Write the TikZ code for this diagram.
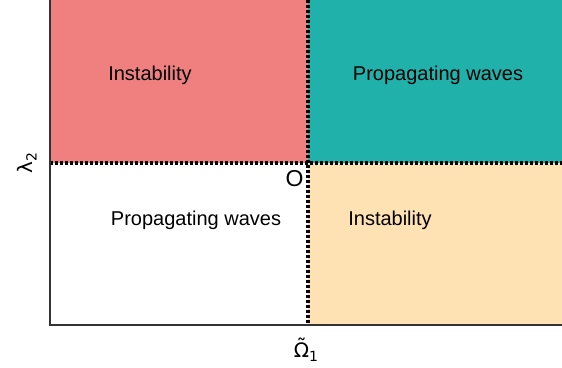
\documentclass[tikz,border=0pt]{standalone}
\usepackage{fontspec}
\setmainfont{Liberation Sans}
\newfontfamily\dvs{DejaVu Sans}
\definecolor{lcoral}{RGB}{240,128,128}
\definecolor{lsea}{RGB}{32,178,170}
\definecolor{mocc}{RGB}{255,226,179}
\begin{document}
\begin{tikzpicture}[x=1pt,y=-1pt,
  regtext/.style={inner sep=0pt,anchor=base,font=\fontsize{20}{24}\selectfont},
  axlabel/.style={inner sep=0pt,font=\dvs\fontsize{20}{24}\selectfont},
  divider/.style={line width=3.5pt,black,dash pattern=on 2.6pt off 2.4pt},
  spine/.style={line width=1.3pt,black!80}]
\useasboundingbox (0,0) rectangle (562,367);
\coordinate (tl) at (50,0);
\coordinate (tm) at (308,0);
\coordinate (tr) at (562,0);
\coordinate (ml) at (50,163);
\coordinate (mm) at (308,163);
\coordinate (mr) at (562,163);
\coordinate (bl) at (50,325);
\coordinate (bm) at (308,325);
\coordinate (br) at (562,325);
\fill[lcoral] (tl) rectangle (mm);
\fill[lsea] (tm) rectangle (mr);
\fill[mocc] (mm) rectangle (br);
\draw[divider] (ml) -- (mr);
\draw[divider] (tm) -- (bm);
\draw[spine] (tl) -- (bl) -- (br);
\node[regtext] (i1) at (150,80) {Instability};
\node[regtext] (p1) at (438,80) {Propagating waves};
\node[regtext] (p2) at (196,225) {Propagating waves};
\node[regtext] (i2) at (390,225.5) {Instability};
\node[regtext,font=\fontsize{23}{26}\selectfont] (o) at (294.5,186.5) {O};
\node[axlabel,rotate=90] (yl) at (27,163) {λ\raisebox{-4pt}{\fontsize{14}{16}\selectfont 2}};
\node[axlabel,anchor=base] (xl) at (306,357) {\ooalign{Ω\cr\hidewidth\raisebox{3.5pt}{\char"02DC}\hidewidth\cr}\raisebox{-4pt}{\fontsize{14}{16}\selectfont 1}};
\end{tikzpicture}
\end{document}
